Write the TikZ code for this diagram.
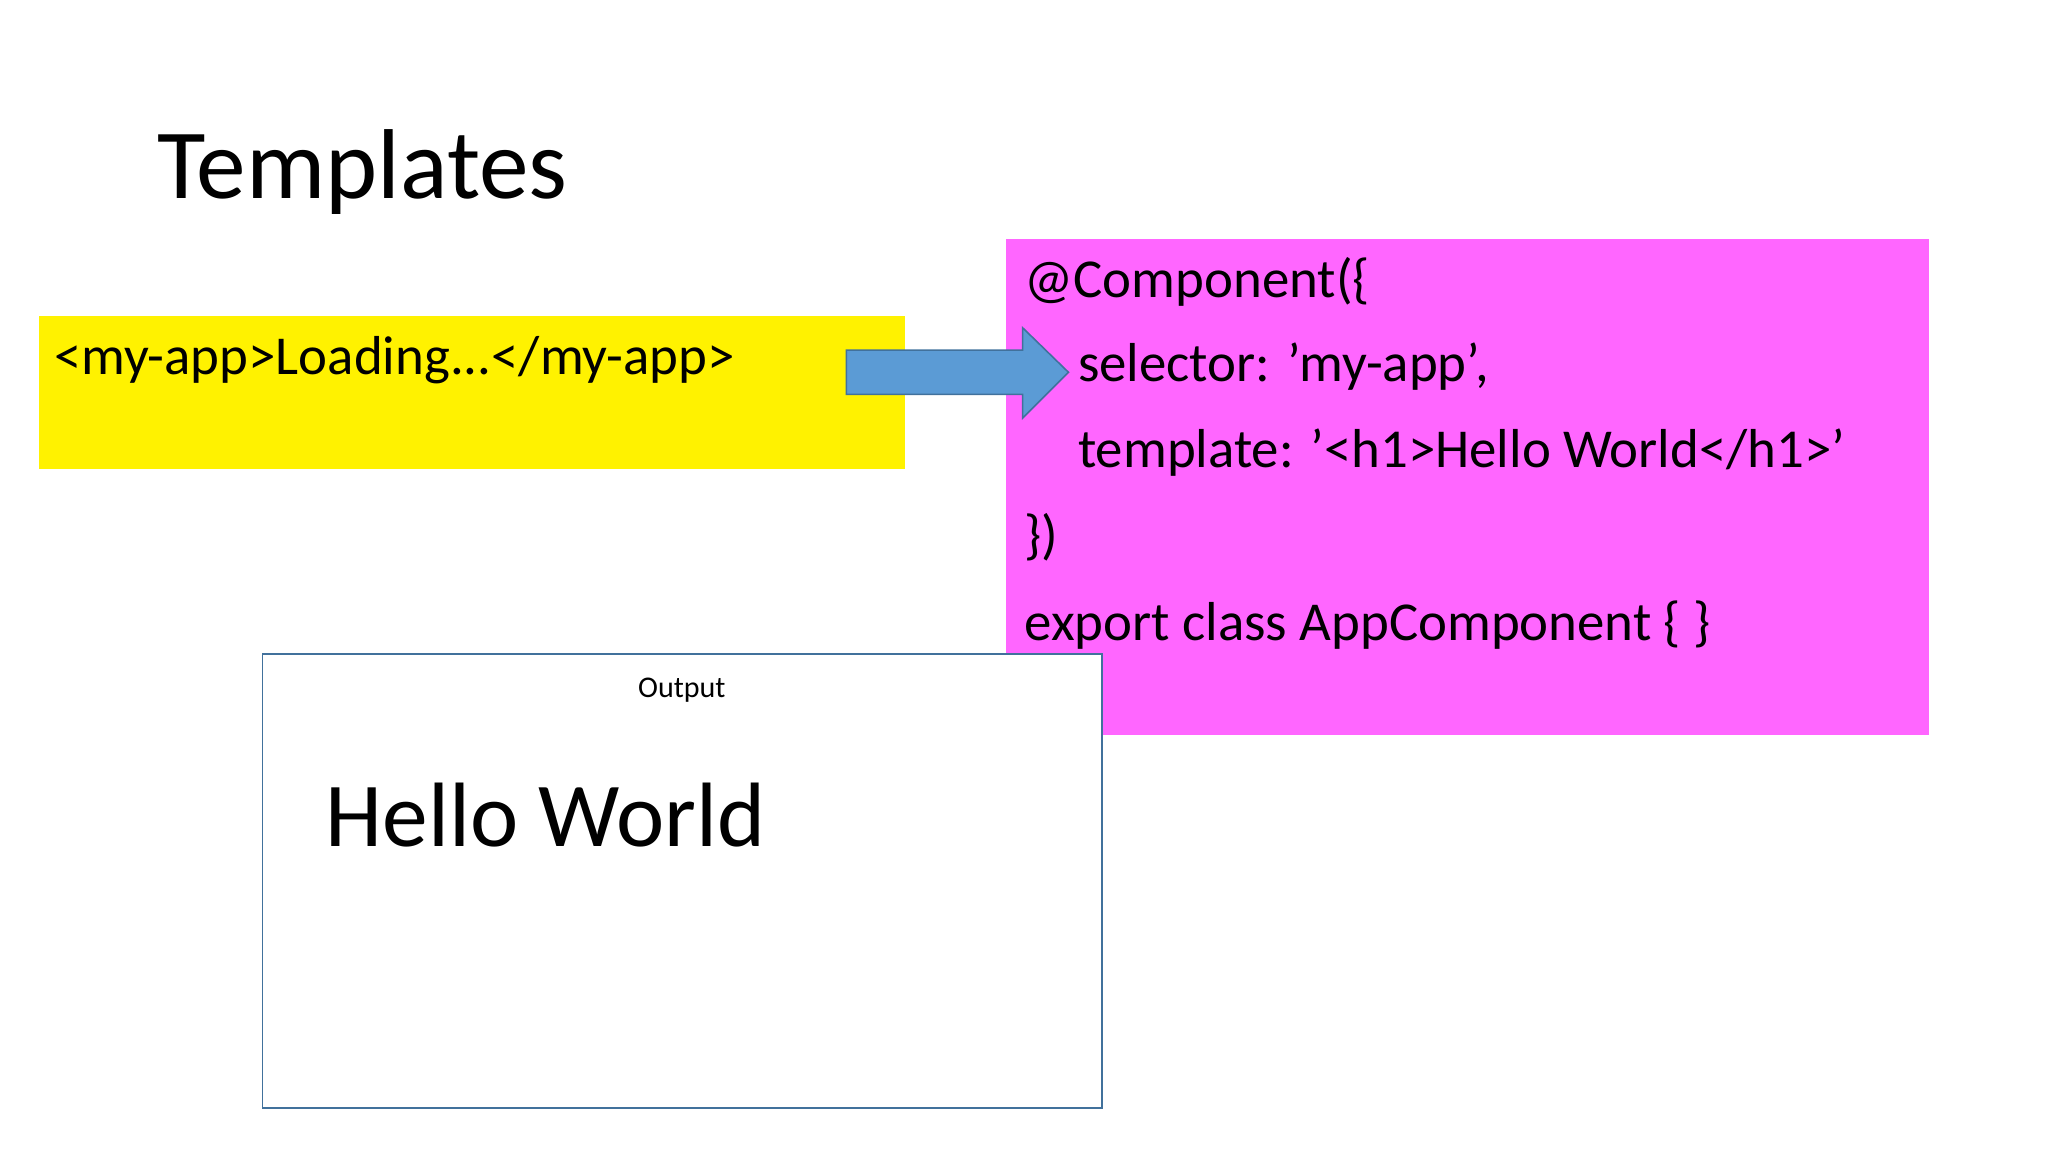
\documentclass[tikz,border=0pt]{standalone}
\usepackage{fontspec}
\setmainfont{Carlito}
\definecolor{mag}{HTML}{FF66FF}
\definecolor{arrfill}{HTML}{5B9BD5}
\definecolor{arrline}{HTML}{41719C}
\begin{document}
\begin{tikzpicture}[x=0.5pt,y=-0.5pt,
  code/.style={anchor=base west,inner sep=0pt,font=\fontsize{21}{25}\selectfont}]
\useasboundingbox (0,0) rectangle (1568,882);
\node[anchor=base west,inner sep=0pt,font=\fontsize{38}{44}\selectfont] (title) at (120,152) {Templates};
\fill[yellow] (30,242) rectangle (693,359);
\node[code] (load) at (41,287) {<my-app>Loading...</my-app>};
\fill[mag] (770,183) rectangle (1477,563);
\node[code] (c1) at (784,228) {@Component(\{};
\node[code] (c2) at (825,292) {selector: 'my-app',};
\node[code] (c3) at (825,358) {template: '<h1>Hello World</h1>'};
\node[code] (c4) at (784,424) {\})};
\node[code] (c5) at (784,490) {export class AppComponent \{ \}};
\draw[arrline,fill=arrfill,line width=0.6pt] (648,268) -- (783,268) -- (783,251) -- (818,285) -- (783,320) -- (783,302) -- (648,302) -- cycle;
\draw[arrline,fill=white,line width=0.7pt] (201,501) rectangle (844,848);
\node[anchor=base,inner sep=0pt,font=\fontsize{11.5}{14}\selectfont] (out) at (522,534) {Output};
\node[anchor=base west,inner sep=0pt,font=\fontsize{35}{40}\selectfont] (hw) at (249,648) {Hello World};
\end{tikzpicture}
\end{document}
